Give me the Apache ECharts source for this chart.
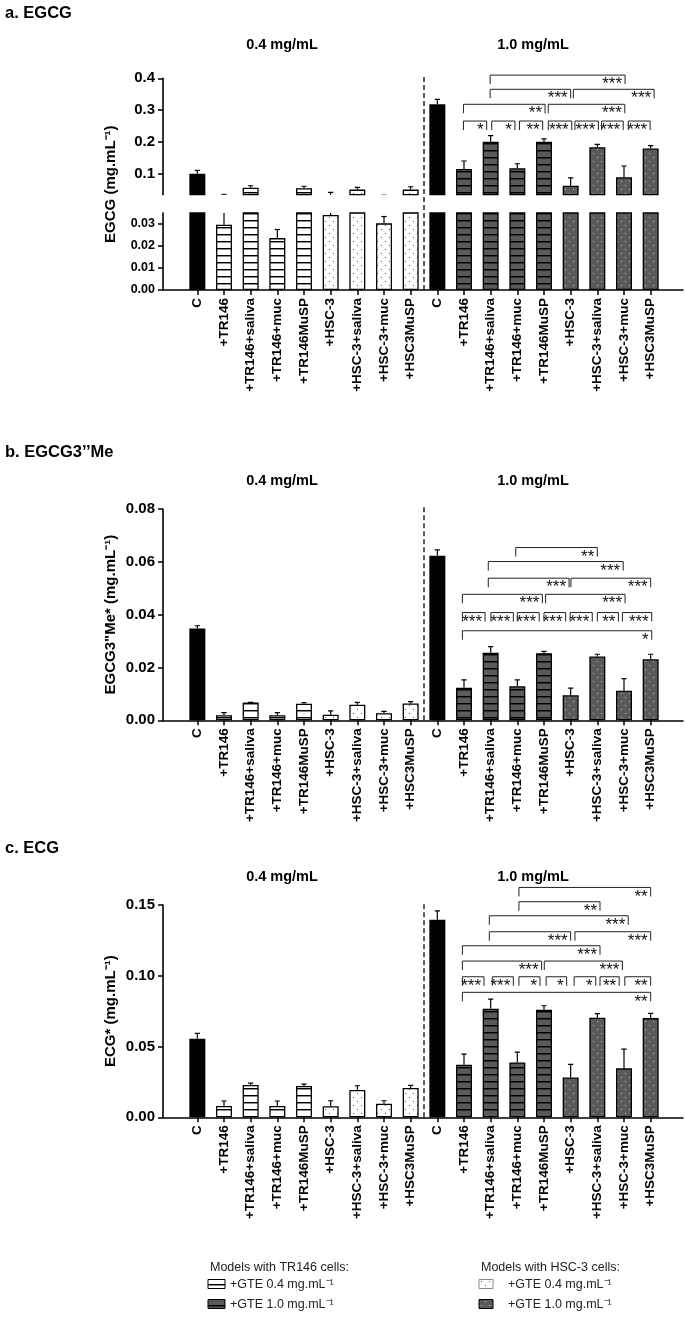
<!DOCTYPE html>
<html><head><meta charset="utf-8">
<script src="https://cdn.jsdelivr.net/npm/echarts@6/dist/echarts.min.js"></script>
<style>html,body{margin:0;padding:0;background:#fff}#c{width:685px;height:1322px}</style>
</head><body><div id="c"></div>
<script>
// ---------------- data ----------------
const groupCategories = ['C','+TR146','+TR146+saliva','+TR146+muc','+TR146MuSP','+HSC-3','+HSC-3+saliva','+HSC-3+muc','+HSC3MuSP'];
const categories = groupCategories.concat(groupCategories);
const doseLabels = ['0.4 mg/mL','1.0 mg/mL'];

const egcgMean = [0.101,0.0297,0.057,0.0236,0.055,0.0341,0.051,0.0303,0.051, 0.3185,0.1157,0.201,0.118,0.201,0.063,0.184,0.0895,0.180];
const egcgSD   = [0.010,0.0063,0.006,0.0039,0.0065,0.008,0.007,0.0031,0.009, 0.0155,0.025,0.019,0.014,0.009,0.025,0.009,0.0355,0.009];

const egcgMeMean = [0.0348,0.0019,0.0067,0.0019,0.0063,0.0021,0.0059,0.0027,0.0064, 0.0623,0.0123,0.0256,0.0129,0.0254,0.0095,0.0242,0.0112,0.0231];
const egcgMeSD   = [0.0010,0.0010,0.0001,0.0010,0.0004,0.0015,0.0009,0.0007,0.0007, 0.0022,0.0030,0.0023,0.0024,0.0007,0.0027,0.0008,0.0046,0.0019];

const ecgMean = [0.0555,0.008,0.0228,0.008,0.0221,0.0078,0.0193,0.0096,0.0207, 0.1395,0.0372,0.0767,0.0388,0.076,0.0282,0.0703,0.0346,0.0701];
const ecgSD   = [0.0038,0.0035,0.0014,0.0035,0.0014,0.0039,0.003,0.0021,0.0019, 0.0064,0.0075,0.0068,0.0073,0.0028,0.0092,0.0029,0.0136,0.0033];

// significance brackets: [from category (fractional), to category, y value, label]
const egcgBrackets = [
  [10.98,16.04,0.410,'***'],
  [10.98,14.0,0.3655,'***'],[14.1,17.13,0.3655,'***'],
  [9.98,13.04,0.3185,'**'],[13.16,16.03,0.3185,'***'],
  [9.98,10.85,0.266,'*'],[11.04,11.91,0.266,'*'],[12.08,12.95,0.266,'**'],[13.16,14.04,0.266,'***'],
  [14.16,15.04,0.266,'***'],[15.16,15.97,0.266,'***'],[16.16,16.98,0.266,'***']
];
const egcgMeBrackets = [
  [11.94,15.0,0.0654,'**'],
  [10.91,15.97,0.0601,'***'],
  [10.91,13.94,0.0538,'***'],[14.01,17.0,0.0538,'***'],
  [9.94,12.94,0.0477,'***'],[13.06,16.04,0.0477,'***'],
  [9.94,10.79,0.0408,'***'],[11.01,11.85,0.0408,'***'],[12.0,12.82,0.0408,'***'],[13.0,13.81,0.0408,'***'],
  [13.98,14.81,0.0408,'***'],[15.0,15.79,0.0408,'**'],[15.94,17.04,0.0408,'***'],
  [9.94,17.04,0.0339,'*']
];
const ecgBrackets = [
  [12.06,17.0,0.1624,'**'],
  [12.06,15.1,0.1523,'**'],
  [10.95,16.16,0.1424,'***'],
  [10.95,14.0,0.1311,'***'],[14.16,17.0,0.1311,'***'],
  [9.94,15.1,0.1212,'***'],
  [9.94,12.91,0.1104,'***'],[13.01,15.94,0.1104,'***'],
  [9.94,10.75,0.0993,'***'],[11.06,11.85,0.0993,'***'],[12.06,12.85,0.0993,'*'],[13.08,13.85,0.0993,'*'],
  [14.13,14.94,0.0993,'*'],[15.1,15.82,0.0993,'**'],[16.03,17.0,0.0993,'**'],
  [9.94,17.0,0.0883,'**']
];

const egcgUpperTicks = [0.1,0.2,0.3,0.4];
const egcgLowerTicks = [0,0.01,0.02,0.03];
const egcgBreak = 0.035;

// ---------------- styles ----------------
const FONT = 'Liberation Sans, Arial, Helvetica, sans-serif';
function mkCanvas(w,h,draw){const c=document.createElement('canvas');c.width=w;c.height=h;draw(c.getContext('2d'));return c;}
const DARK = '#5a5a5a';
const stripeW = mkCanvas(4,7,g=>{g.fillStyle='#fff';g.fillRect(0,0,4,7);g.fillStyle='#000';g.fillRect(0,3,4,1);g.fillStyle='rgba(0,0,0,0.45)';g.fillRect(0,4,4,1);});
const stripeD = mkCanvas(4,7,g=>{g.fillStyle=DARK;g.fillRect(0,0,4,7);g.fillStyle='#000';g.fillRect(0,3,4,1);g.fillStyle='rgba(0,0,0,0.45)';g.fillRect(0,4,4,1);});
const dotW = mkCanvas(8,8,g=>{g.fillStyle='#fff';g.fillRect(0,0,8,8);g.fillStyle='#555';g.fillRect(1,1,1,1);g.fillRect(5,5,1,1);});
const dotD = mkCanvas(8,8,g=>{g.fillStyle=DARK;g.fillRect(0,0,8,8);g.fillStyle='#c0c0c0';g.fillRect(1,1,1,1);g.fillRect(5,5,1,1);});
function fillFor(i){
  const k = i % 9, hi = i >= 9;
  if (k === 0) return '#000';
  if (k <= 4) return {image: hi ? stripeD : stripeW, repeat:'repeat'};
  return {image: hi ? dotD : dotW, repeat:'repeat'};
}
function barData(vals){ return vals.map((v,i)=>({value:v,itemStyle:{color:fillFor(i),borderColor:'#000',borderWidth:1.3}})); }

// ---------------- layout ----------------
const AXIS_X = 163, BAR_LEFT = 184, BAR_W = 480;
const A_UP_TOP = 78.3, A_UP_H = 116.4, A_LOW_TOP = 213, A_LOW_H = 77;
const B_TOP = 509, B_H = 211.3;
const C_TOP = 905, C_H = 212.3;

const grids = [
  {left:AXIS_X,right:2,top:A_UP_TOP,height:A_LOW_TOP+A_LOW_H-A_UP_TOP},
  {left:BAR_LEFT,width:BAR_W,top:A_UP_TOP,height:A_UP_H},
  {left:BAR_LEFT,width:BAR_W,top:A_LOW_TOP,height:A_LOW_H},
  {left:AXIS_X,right:2,top:B_TOP,height:B_H},
  {left:BAR_LEFT,width:BAR_W,top:B_TOP,height:B_H},
  {left:AXIS_X,right:2,top:C_TOP,height:C_H},
  {left:BAR_LEFT,width:BAR_W,top:C_TOP,height:C_H}
].map(g=>Object.assign({containLabel:false,outerBoundsMode:'none'},g));

const lineX = gi => ({gridIndex:gi,type:'value',min:0,max:1,axisLine:{show:true,lineStyle:{color:'#000',width:1.6}},axisTick:{show:false},axisLabel:{show:false},splitLine:{show:false}});
const nameY = (gi,name) => ({gridIndex:gi,type:'value',min:0,max:1,axisLine:{show:false},axisTick:{show:false},axisLabel:{show:false},splitLine:{show:false},
  name:name,nameLocation:'middle',nameGap:45,nameTextStyle:{fontFamily:FONT,fontWeight:'bold',fontSize:15,color:'#000'}});
const catX = (gi,labels) => ({gridIndex:gi,type:'category',data:categories,axisLine:{show:false},
  axisTick:{show:labels,alignWithLabel:true,interval:0,length:5,lineStyle:{color:'#000',width:1.5}},
  axisLabel:{show:labels,rotate:90,interval:0,margin:8,fontFamily:FONT,fontWeight:'bold',fontSize:13.5,color:'#000'},splitLine:{show:false}});
const valY = (gi,opt,fs,dec) => Object.assign({gridIndex:gi,type:'value',position:'left',offset:BAR_LEFT-AXIS_X,
  axisLine:{show:true,lineStyle:{color:'#000',width:1.6}},
  axisTick:{show:true,length:5,lineStyle:{color:'#000',width:1.5}},
  axisLabel:{margin:8,fontFamily:FONT,fontWeight:'bold',fontSize:fs,color:'#000',formatter:v=>v.toFixed(dec)},
  splitLine:{show:false}},opt);

const xAxes = [lineX(0),catX(1,false),catX(2,true),lineX(3),catX(4,true),lineX(5),catX(6,true)];
const yAxes = [
  nameY(0,'EGCG (mg.mL⁻¹)'),
  valY(1,{min:egcgBreak,max:0.4,axisTick:{show:true,length:5,customValues:egcgUpperTicks,lineStyle:{color:'#000',width:1.5}}},15,1),
  valY(2,{min:0,max:egcgBreak,axisTick:{show:true,length:5,customValues:egcgLowerTicks,lineStyle:{color:'#000',width:1.5}}},12.5,2),
  nameY(3,'EGCG3"Me* (mg.mL⁻¹)'),
  valY(4,{min:0,max:0.08,interval:0.02},15,2),
  nameY(5,'ECG* (mg.mL⁻¹)'),
  valY(6,{min:0,max:0.15,interval:0.05},15,2)
];
yAxes[1].axisLabel.customValues = egcgUpperTicks;
yAxes[2].axisLabel.customValues = egcgLowerTicks;

// ---------------- renderers ----------------
function errItem(params, api){
  const i = api.value(0), p0 = api.coord([i, api.value(1)]), p1 = api.coord([i, api.value(2)]);
  const cap = 2.6, st = {stroke:'#000',lineWidth:1.2};
  return {type:'group',children:[
    {type:'line',shape:{x1:p0[0],y1:p0[1],x2:p1[0],y2:p1[1]},style:st},
    {type:'line',shape:{x1:p1[0]-cap,y1:p1[1],x2:p1[0]+cap,y2:p1[1]},style:st}
  ]};
}
function bracketRenderer(brs){
  return function(params, api){
    const b = brs[params.dataIndex];
    const bw = api.size([1,0])[0];
    const i1 = Math.floor(b[0]), i2 = Math.floor(b[1]);
    const p1 = api.coord([i1,b[2]]), p2 = api.coord([i2,b[2]]);
    const x1 = p1[0] + (b[0]-i1)*bw, x2 = p2[0] + (b[1]-i2)*bw, y = p1[1], drop = 9;
    return {type:'group',children:[
      {type:'polyline',shape:{points:[[x1,y+drop],[x1,y],[x2,y],[x2,y+drop]]},style:{stroke:'#222',lineWidth:1,fill:null}},
      {type:'text',style:{text:b[3],x:x2-3,y:y+1,align:'right',verticalAlign:'top',fontFamily:FONT,fontSize:17,fill:'#111'}}
    ]};
  };
}
function sepRenderer(extraTop){
  return function(params, api){
    const i = api.value(0), bw = api.size([1,0])[0];
    const pb = api.coord([i, api.value(1)]), pt = api.coord([i, api.value(2)]);
    const x = pb[0] + bw/2;
    return {type:'line',shape:{x1:x,y1:pb[1],x2:x,y2:pt[1]-extraTop},style:{stroke:'#000',lineWidth:1.3,lineDash:[5,3]}};
  };
}
function barSeries(gi, vals){ return {type:'bar',xAxisIndex:gi,yAxisIndex:gi,data:barData(vals),barWidth:16,clip:true,silent:true}; }
function errSeries(gi, mean, sd){ return {type:'custom',xAxisIndex:gi,yAxisIndex:gi,clip:true,z:3,silent:true,renderItem:errItem,data:mean.map((m,i)=>[i,m,m+sd[i]])}; }
function brSeries(gi, brs){ return {type:'custom',xAxisIndex:gi,yAxisIndex:gi,clip:false,z:4,silent:true,renderItem:bracketRenderer(brs),data:brs.map(b=>[Math.floor(b[0]),b[2]])}; }
function sepSeries(gi, ymin, ymax, extra){ return {type:'custom',xAxisIndex:gi,yAxisIndex:gi,clip:false,z:2,silent:true,renderItem:sepRenderer(extra),data:[[groupCategories.length-1,ymin,ymax]]}; }

const series = [
  barSeries(1, egcgMean), barSeries(2, egcgMean),
  errSeries(1, egcgMean, egcgSD), errSeries(2, egcgMean, egcgSD),
  brSeries(1, egcgBrackets),
  sepSeries(2, 0, egcgBreak, (A_LOW_TOP - A_UP_TOP) + 4),
  barSeries(4, egcgMeMean), errSeries(4, egcgMeMean, egcgMeSD), brSeries(4, egcgMeBrackets), sepSeries(4, 0, 0.08, 4),
  barSeries(6, ecgMean), errSeries(6, ecgMean, ecgSD), brSeries(6, ecgBrackets), sepSeries(6, 0, 0.15, 3)
];

// ---------------- text & legend ----------------
const panelTitles = ['a. EGCG','b. EGCG3’’Me','c. ECG'];
const titleY = [13, 452, 848], doseY = [45, 481, 877];
const graphics = [];
panelTitles.forEach((t,k)=>{
  graphics.push({type:'text',x:5,y:titleY[k],style:{text:t,font:'bold 16.5px '+FONT,fill:'#000',verticalAlign:'middle'}});
  graphics.push({type:'text',x:282,y:doseY[k],style:{text:doseLabels[0],font:'bold 14.5px '+FONT,fill:'#000',align:'center',verticalAlign:'middle'}});
  graphics.push({type:'text',x:533,y:doseY[k],style:{text:doseLabels[1],font:'bold 14.5px '+FONT,fill:'#000',align:'center',verticalAlign:'middle'}});
});
const legendHeads = ['Models with TR146 cells:','Models with HSC-3 cells:'];
const legendItems = ['+GTE 0.4 mg.mL⁻¹','+GTE 1.0 mg.mL⁻¹'];
const legX = [210, 481], swX = [208, 479];
const swFills = [[{image:stripeW,repeat:'repeat'},{image:stripeD,repeat:'repeat'}],[{image:dotW,repeat:'repeat'},{image:dotD,repeat:'repeat'}]];
[0,1].forEach(c=>{
  graphics.push({type:'text',x:legX[c],y:1268,style:{text:legendHeads[c],font:'12.5px '+FONT,fill:'#222',verticalAlign:'middle'}});
  [0,1].forEach(r=>{
    const yy = [1284, 1304][r];
    graphics.push({type:'rect',shape:{x:swX[c],y:yy-4.5,width:c?14:17,height:9},style:{fill:swFills[c][r],stroke:c&&!r?'#888':'#000',lineWidth:1}});
    graphics.push({type:'text',x:swX[c]+(c?29:22),y:yy+1,style:{text:legendItems[r],font:'12.5px '+FONT,fill:'#222',verticalAlign:'middle'}});
  });
});

const chart = echarts.init(document.getElementById('c'), null, {renderer:'canvas'});
chart.setOption({
  animation:false,
  backgroundColor:'#fff',
  textStyle:{fontFamily:FONT},
  grid:grids, xAxis:xAxes, yAxis:yAxes, series:series, graphic:graphics
});
</script></body></html>
